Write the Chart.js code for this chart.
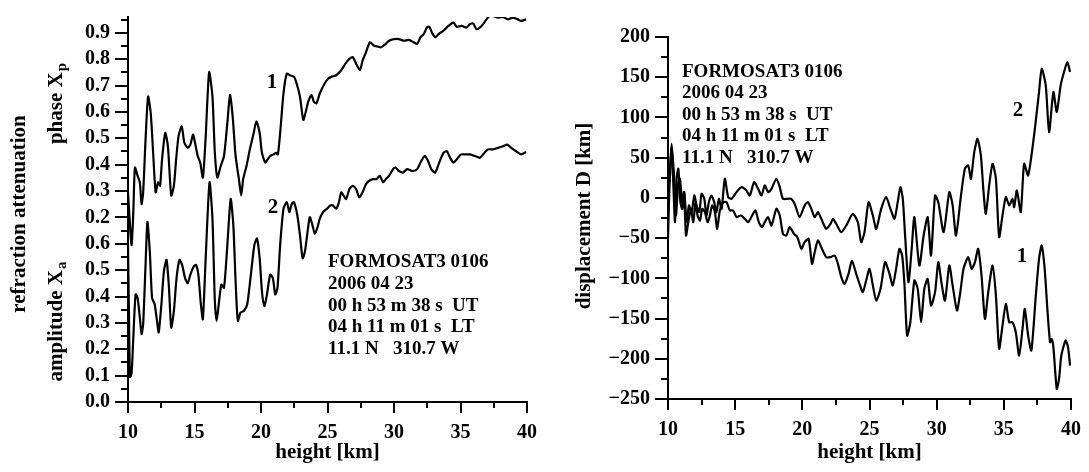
<!DOCTYPE html>
<html>
<head>
<meta charset="utf-8">
<script src="https://cdn.jsdelivr.net/npm/chart.js@4/dist/chart.umd.min.js"></script>
<style>
  html, body { margin: 0; padding: 0; background: #fff; }
  #wrap { position: relative; width: 1089px; height: 472px; overflow: hidden; }
  canvas { position: absolute; top: 0; }
  #cL { left: 0; }
  #cR { left: 545px; }
</style>
</head>
<body>
<div id="wrap">
  <canvas id="cL" width="545" height="472"></canvas>
  <canvas id="cR" width="544" height="472"></canvas>
</div>
<script>
// ---------------- DATA ----------------
// Left panel, curve 1: phase X_p (read on the upper label scale)
const phaseHeights = [10.00,10.15,10.27,10.40,10.52,10.72,10.89,11.02,11.14,11.32,11.51,11.71,11.89,12.08,12.26,12.41,12.56,12.80,13.00,13.25,13.45,13.62,13.80,14.04,14.24,14.49,14.69,14.89,15.04,15.24,15.43,15.63,15.83,16.10,16.35,16.53,16.72,16.97,17.22,17.47,17.67,17.87,18.09,18.34,18.51,18.66,18.91,19.16,19.45,19.65,19.90,20.07,20.32,20.50,20.69,20.94,21.14,21.27,21.44,21.69,21.94,22.18,22.48,22.68,22.93,23.18,23.37,23.55,23.80,23.97,24.17,24.42,24.59,24.79,25.04,25.29,25.66,26.03,26.35,26.65,26.90,27.15,27.44,27.64,27.89,28.19,28.51,28.76,29.01,29.38,29.63,30.00,30.37,30.74,31.12,31.49,31.74,31.99,32.23,32.48,32.66,32.85,33.10,33.35,33.72,34.09,34.47,34.71,35.09,35.46,35.71,35.96,36.20,36.45,36.70,36.95,37.20,37.44,37.82,38.19,38.56,38.93,39.31,39.55,39.93];
const phaseXp = [0.295,0.17,0.095,0.22,0.389,0.358,0.333,0.251,0.295,0.495,0.658,0.595,0.445,0.295,0.333,0.32,0.42,0.52,0.47,0.283,0.32,0.42,0.508,0.545,0.483,0.464,0.476,0.514,0.483,0.433,0.408,0.351,0.495,0.751,0.658,0.445,0.351,0.395,0.433,0.558,0.664,0.583,0.433,0.345,0.283,0.345,0.395,0.458,0.52,0.564,0.52,0.445,0.408,0.42,0.433,0.439,0.445,0.439,0.52,0.67,0.745,0.739,0.733,0.708,0.658,0.57,0.601,0.639,0.664,0.639,0.633,0.67,0.689,0.708,0.726,0.733,0.739,0.758,0.783,0.801,0.808,0.783,0.758,0.795,0.826,0.864,0.851,0.848,0.845,0.858,0.87,0.876,0.876,0.87,0.873,0.864,0.858,0.883,0.895,0.92,0.923,0.901,0.883,0.895,0.908,0.926,0.939,0.923,0.926,0.92,0.933,0.935,0.914,0.92,0.933,0.951,0.964,0.964,0.958,0.96,0.951,0.958,0.951,0.945,0.951];

// Left panel, curve 2: amplitude X_a (read on the lower label scale)
const ampHeights = [10.00,10.07,10.15,10.27,10.40,10.57,10.72,10.89,11.02,11.14,11.32,11.46,11.64,11.81,12.01,12.21,12.31,12.51,12.70,12.90,13.08,13.25,13.45,13.65,13.87,14.07,14.29,14.49,14.69,14.94,15.11,15.29,15.48,15.63,15.83,16.13,16.35,16.53,16.67,16.85,17.02,17.22,17.47,17.72,17.92,18.11,18.26,18.46,18.71,18.96,19.21,19.50,19.70,19.90,20.07,20.25,20.45,20.69,20.89,21.07,21.24,21.44,21.69,21.94,22.13,22.31,22.48,22.73,22.93,23.13,23.30,23.47,23.67,23.87,24.04,24.22,24.42,24.67,24.96,25.21,25.41,25.66,25.86,26.03,26.20,26.40,26.65,26.90,27.15,27.39,27.64,27.89,28.14,28.44,28.68,28.93,29.18,29.38,29.63,29.93,30.12,30.37,30.67,30.99,31.36,31.74,31.99,32.31,32.56,32.80,33.10,33.40,33.72,33.97,34.22,34.47,34.71,35.04,35.33,35.71,36.08,36.45,36.70,37.07,37.44,37.82,38.19,38.51,38.81,39.18,39.55,39.93];
const amplitudeXa = [0.595,0.345,0.095,0.108,0.245,0.408,0.395,0.32,0.258,0.295,0.52,0.683,0.57,0.395,0.37,0.295,0.264,0.37,0.495,0.539,0.433,0.283,0.345,0.47,0.539,0.52,0.47,0.451,0.483,0.514,0.52,0.483,0.37,0.314,0.533,0.833,0.695,0.383,0.308,0.383,0.445,0.433,0.595,0.77,0.67,0.433,0.308,0.339,0.345,0.37,0.47,0.595,0.62,0.545,0.42,0.364,0.408,0.483,0.47,0.408,0.433,0.595,0.733,0.758,0.72,0.751,0.758,0.708,0.633,0.545,0.57,0.633,0.701,0.67,0.639,0.658,0.695,0.72,0.733,0.745,0.745,0.733,0.758,0.795,0.783,0.77,0.808,0.82,0.808,0.776,0.795,0.826,0.839,0.845,0.845,0.858,0.833,0.845,0.858,0.883,0.889,0.876,0.87,0.883,0.876,0.883,0.908,0.933,0.914,0.883,0.87,0.908,0.945,0.951,0.926,0.908,0.92,0.939,0.939,0.939,0.933,0.926,0.939,0.958,0.958,0.964,0.97,0.976,0.964,0.951,0.939,0.948];

// Right panel, curve 2: displacement D [km]
const disp2Heights = [10.00,10.15,10.27,10.45,10.59,10.77,10.89,11.06,11.21,11.39,11.56,11.76,11.96,12.13,12.33,12.50,12.70,12.87,13.04,13.24,13.44,13.61,13.79,13.99,14.23,14.48,14.73,15.10,15.47,15.84,16.09,16.41,16.71,16.96,17.20,17.45,17.70,18.07,18.32,18.56,18.94,19.18,19.43,19.80,20.17,20.42,20.67,20.92,21.16,21.41,21.78,22.10,22.28,22.52,22.90,23.27,23.76,24.13,24.38,24.63,24.93,25.25,25.50,25.87,26.24,26.56,26.86,27.10,27.30,27.48,27.65,27.90,28.14,28.34,28.71,29.03,29.33,29.58,29.88,30.12,30.52,30.94,31.19,31.44,31.81,32.10,32.35,32.55,32.80,33.04,33.29,33.49,33.66,33.91,34.16,34.41,34.65,34.90,35.15,35.40,35.64,35.77,35.97,36.26,36.51,36.81,37.25,37.62,37.82,38.12,38.37,38.69,38.94,39.23,39.48,39.73,39.93];
const displacement2 = [7.2,27.9,67.3,27.9,-21.9,19.6,23.8,-5.3,7.2,-30.2,-9.4,-17.7,3.0,-9.4,-17.7,5.1,-1.1,-21.9,-5.3,3.0,-5.3,-17.7,-1.1,-13.6,23.8,1.0,-1.1,7.2,13.4,9.2,3.0,19.6,11.3,3.0,15.5,7.2,11.3,23.8,13.4,-1.1,-1.1,-1.1,-7.4,-23.9,-9.4,-5.3,-13.6,-23.9,-17.7,-26.0,-38.5,-32.2,-26.0,-32.2,-42.6,-34.3,-19.8,-30.2,-55.0,-42.6,-5.3,-21.9,-38.5,-13.6,1.0,-13.6,-26.0,-5.3,13.4,-1.1,-46.8,-104.8,-63.3,-23.9,-84.1,-46.8,-23.9,-71.6,3.0,-5.3,-42.6,7.2,-9.4,-46.8,3.0,36.2,40.3,23.8,57.0,73.5,52.8,7.2,-19.8,15.5,42.4,23.8,-48.8,-21.9,1.0,-9.4,-1.1,-11.5,9.2,-17.7,42.4,27.9,77.7,131.6,160.6,139.9,81.8,131.6,106.7,139.9,156.5,168.9,156.5];

// Right panel, curve 1: displacement D [km]
const disp1Heights = [10.00,10.15,10.27,10.40,10.52,10.64,10.77,10.92,11.06,11.19,11.34,11.51,11.71,11.88,12.05,12.20,12.38,12.55,12.75,12.95,13.12,13.29,13.49,13.66,13.86,14.11,14.36,14.60,14.85,15.10,15.42,15.72,15.97,16.26,16.51,16.76,17.00,17.20,17.45,17.70,18.07,18.32,18.56,18.81,19.06,19.38,19.63,19.93,20.17,20.47,20.72,20.92,21.16,21.46,21.78,22.10,22.40,22.65,22.90,23.14,23.44,23.69,24.01,24.26,24.50,24.75,25.00,25.25,25.50,25.82,26.16,26.49,26.73,26.98,27.23,27.43,27.60,27.80,28.04,28.34,28.59,28.84,29.08,29.33,29.58,29.88,30.12,30.37,30.62,30.94,31.19,31.51,31.76,32.00,32.35,32.60,32.85,33.09,33.34,33.59,33.84,34.16,34.41,34.65,34.90,35.15,35.40,35.64,35.89,36.14,36.39,36.56,36.81,37.05,37.38,37.62,37.82,38.04,38.24,38.44,38.56,38.69,38.94,39.11,39.28,39.60,39.78,39.93];
const displacement1 = [-50.9,36.2,61.1,15.5,-30.2,23.8,36.2,-5.3,-13.6,7.2,-46.8,-30.2,-13.6,-30.2,-5.3,-21.9,-28.1,-13.6,-17.7,-30.2,-21.9,-9.4,-17.7,-38.5,-15.6,-5.3,-5.3,-15.6,-15.6,-23.9,-21.9,-26.0,-30.2,-21.9,-15.6,-30.2,-36.4,-30.2,-23.9,-34.3,-13.6,-21.9,-44.7,-46.8,-36.4,-44.7,-48.8,-63.3,-55.0,-50.9,-82.0,-67.5,-52.9,-63.3,-73.7,-73.7,-71.6,-82.0,-98.6,-106.9,-94.4,-77.9,-94.4,-106.9,-117.2,-102.7,-88.2,-108.9,-127.6,-113.1,-79.9,-94.4,-108.9,-88.2,-63.3,-71.6,-106.9,-171.2,-154.6,-102.7,-113.1,-154.6,-113.1,-100.7,-133.8,-117.2,-79.9,-106.9,-127.6,-84.1,-108.9,-140.0,-117.2,-88.2,-73.7,-88.2,-79.9,-63.3,-96.5,-150.4,-117.2,-84.1,-121.4,-187.7,-158.7,-131.8,-154.6,-154.6,-167.0,-196.0,-162.9,-138.0,-171.2,-189.8,-121.4,-75.8,-59.2,-88.2,-138.0,-179.4,-175.3,-185.7,-237.5,-225.1,-196.0,-177.3,-185.7,-208.5];

// Tick values / labels
const heightTicks = [10, 15, 20, 25, 30, 35, 40];
const ampTickLabels = ['0.0','0.1','0.2','0.3','0.4','0.5','0.6'];
const phaseTickLabels = ['0.2','0.3','0.4','0.5','0.6','0.7','0.8','0.9'];
const dispTicks = [-250, -200, -150, -100, -50, 0, 50, 100, 150, 200];
const PHASE_OFFSET = 0.5;   // upper (phase) scale is stacked 0.5 above the amplitude scale

const infoLines = ['FORMOSAT3 0106', '2006 04 23', '00 h 53 m 38 s  UT', '04 h 11 m 01 s  LT', '11.1 N   310.7 W'];

// ---------------- RENDER ----------------
const SERIF = '"Liberation Serif", "Times New Roman", serif';
Chart.defaults.font.family = SERIF;
Chart.defaults.font.weight = 'bold';
Chart.defaults.color = '#000';

function pts(xs, ys, off) { return xs.map((x, i) => ({ x: x, y: ys[i] + (off || 0) })); }

function lineDs(data) {
  return { data: data, borderColor: '#000', borderWidth: 2.2, pointRadius: 0, tension: 0.22, fill: false };
}

// minor ticks + text plugin factory
function decoPlugin(cfg) {
  return {
    id: 'deco' + cfg.name,
    afterDraw(chart) {
      const ctx = chart.ctx, xs = chart.scales.x, ys = chart.scales.y, ca = chart.chartArea;
      ctx.save();
      ctx.strokeStyle = '#000';
      ctx.lineWidth = 2;
      // minor ticks
      cfg.yMinor.forEach(v => {
        const py = Math.round(ys.getPixelForValue(v));
        ctx.beginPath(); ctx.moveTo(ca.left - 7, py); ctx.lineTo(ca.left, py); ctx.stroke();
      });
      cfg.xMinor.forEach(v => {
        const px = Math.round(xs.getPixelForValue(v));
        ctx.beginPath(); ctx.moveTo(px, ca.bottom); ctx.lineTo(px, ca.bottom + 6); ctx.stroke();
      });
      ctx.fillStyle = '#000';
      // info block
      ctx.font = 'bold 19px ' + SERIF;
      ctx.textBaseline = 'middle';
      ctx.textAlign = 'left';
      infoLines.forEach((t, i) => ctx.fillText(t, cfg.info.x, cfg.info.y + i * cfg.info.dy));
      // curve labels
      ctx.font = 'bold 21px ' + SERIF;
      ctx.textAlign = 'center';
      cfg.curveLabels.forEach(l => ctx.fillText(l.t, l.x, l.y));
      // x title
      ctx.font = 'bold 21px ' + SERIF;
      ctx.fillText('height [km]', (ca.left + ca.right) / 2, 453);
      // y titles
      cfg.yTitles.forEach(tt => {
        ctx.save();
        ctx.translate(tt.x, tt.y);
        ctx.rotate(-Math.PI / 2);
        ctx.font = 'bold 21px ' + SERIF;
        const w1 = ctx.measureText(tt.t).width;
        let wSub = 0;
        if (tt.sub) { ctx.font = 'bold 15px ' + SERIF; wSub = ctx.measureText(tt.sub).width; }
        const start = -(w1 + wSub) / 2;
        ctx.textAlign = 'left';
        ctx.font = 'bold 21px ' + SERIF;
        ctx.fillText(tt.t, start, 0);
        if (tt.sub) {
          ctx.font = 'bold 15px ' + SERIF;
          ctx.fillText(tt.sub, start + w1 + 1, 5);
        }
        ctx.restore();
      });
      ctx.restore();
    }
  };
}

function xScale() {
  return {
    type: 'linear', min: 10, max: 40,
    afterBuildTicks(s) { s.ticks = heightTicks.map(v => ({ value: v })); },
    ticks: { font: { size: 20, weight: 'bold' }, color: '#000', padding: 8, autoSkip: false, maxRotation: 0,
             callback: v => String(v) },
    grid: { drawOnChartArea: false, drawTicks: true, tickLength: 11, color: '#000', lineWidth: 2 },
    border: { display: true, color: '#000', width: 2 },
    afterFit(s) { s.height = 70; }
  };
}

// Left chart
const leftYTickVals = [0,0.1,0.2,0.3,0.4,0.5,0.6,0.7,0.8,0.9,1.0,1.1,1.2,1.3,1.4];
const leftLabels = ampTickLabels.concat(phaseTickLabels);
const leftMinor = [];
for (let k = 0; k < 15; k++) leftMinor.push(k * 0.1 + 0.05);
new Chart(document.getElementById('cL'), {
  type: 'line',
  data: { datasets: [ lineDs(pts(phaseHeights, phaseXp, PHASE_OFFSET)), lineDs(pts(ampHeights, amplitudeXa)) ] },
  options: {
    responsive: false, animation: false, devicePixelRatio: 1,
    layout: { padding: { top: 13, right: 14, left: 0, bottom: 0 } },
    plugins: { legend: { display: false }, tooltip: { enabled: false } },
    scales: {
      x: xScale(),
      y: {
        type: 'linear', min: 0, max: 1.46,
        afterBuildTicks(s) { s.ticks = leftYTickVals.map(v => ({ value: v })); },
        ticks: { font: { size: 20, weight: 'bold' }, color: '#000', padding: 5, autoSkip: false,
                 callback: (v, i) => leftLabels[i] },
        grid: { drawOnChartArea: false, drawTicks: true, tickLength: 13, color: '#000', lineWidth: 2 },
        border: { display: true, color: '#000', width: 2 },
        afterFit(s) { s.width = 128; }
      }
    }
  },
  plugins: [decoPlugin({
    name: 'L',
    yMinor: leftMinor,
    xMinor: [12.5, 17.5, 22.5, 27.5, 32.5, 37.5],
    info: { x: 328, y: 262, dy: 21.8 },
    curveLabels: [{ t: '1', x: 272, y: 83 }, { t: '2', x: 273, y: 208 }],
    yTitles: [
      { t: 'refraction attenuation', x: 20, y: 214 },
      { t: 'phase X', sub: 'p', x: 57, y: 104 },
      { t: 'amplitude X', sub: 'a', x: 57, y: 322 }
    ]
  })]
});

// Right chart
const rightMinor = [-225, -175, -125, -75, -25, 25, 75, 125, 175];
new Chart(document.getElementById('cR'), {
  type: 'line',
  data: { datasets: [ lineDs(pts(disp2Heights, displacement2)), lineDs(pts(disp1Heights, displacement1)) ] },
  options: {
    responsive: false, animation: false, devicePixelRatio: 1,
    layout: { padding: { top: 37, right: 17, left: 0, bottom: 0 } },
    plugins: { legend: { display: false }, tooltip: { enabled: false } },
    scales: {
      x: Object.assign(xScale(), { afterFit(s) { s.height = 73; } }),
      y: {
        type: 'linear', min: -250, max: 200,
        afterBuildTicks(s) { s.ticks = dispTicks.map(v => ({ value: v })); },
        ticks: { font: { size: 20, weight: 'bold' }, color: '#000', padding: 5, autoSkip: false,
                 callback: (v, i) => String(dispTicks[i]).replace('-', '\u2212') },
        grid: { drawOnChartArea: false, drawTicks: true, tickLength: 13, color: '#000', lineWidth: 2 },
        border: { display: true, color: '#000', width: 2 },
        afterFit(s) { s.width = 123; }
      }
    }
  },
  plugins: [decoPlugin({
    name: 'R',
    yMinor: rightMinor,
    xMinor: [12.5, 17.5, 22.5, 27.5, 32.5, 37.5],
    info: { x: 682 - 545, y: 72, dy: 21.5 },
    curveLabels: [{ t: '2', x: 1018 - 545, y: 111 }, { t: '1', x: 1022 - 545, y: 257 }],
    yTitles: [ { t: 'displacement D [km]', x: 585 - 545, y: 216 } ]
  })]
});
</script>
</body>
</html>
